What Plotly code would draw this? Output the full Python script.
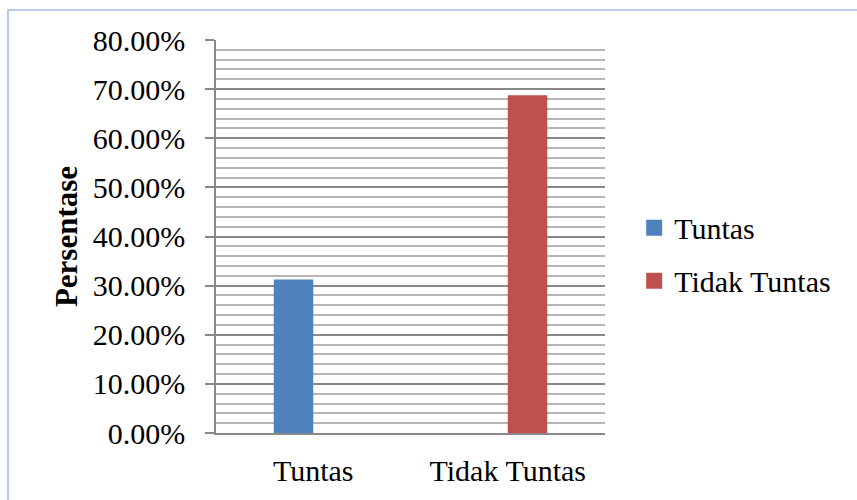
import plotly.graph_objects as go

categories = ["Tuntas", "Tidak Tuntas"]
series_names = ["Tuntas", "Tidak Tuntas"]
tuntas_values = [0.3125, None]
tidak_tuntas_values = [None, 0.6875]
series_colors = ["#4f81bd", "#c0504d"]
y_tick_values = [0, 0.1, 0.2, 0.3, 0.4, 0.5, 0.6, 0.7, 0.8]

FONT = "Times New Roman, Liberation Serif, serif"
MAJOR = "#898989"
MINOR = "#b5b5b5"

fig = go.Figure()
for name, vals, color in zip(series_names, [tuntas_values, tidak_tuntas_values], series_colors):
    fig.add_trace(go.Bar(x=categories, y=vals, name=name, marker_color=color,
                         marker_line_width=0, showlegend=False))
    # square legend swatch
    fig.add_trace(go.Scatter(x=[None], y=[None], mode="markers", name=name,
                             legendgroup=name,
                             marker=dict(symbol="square", size=16, color=color)))

fig.update_layout(
    width=857, height=500,
    margin=dict(l=216, r=252, t=40, b=67, autoexpand=False),
    paper_bgcolor="white", plot_bgcolor="white",
    barmode="group", bargap=0.594, bargroupgap=0,
    font=dict(family=FONT, size=30, color="black"),
    legend=dict(x=1.075, y=0.455, xanchor="left", yanchor="middle",
                font=dict(family=FONT, size=30), itemsizing="trace",
                bgcolor="rgba(0,0,0,0)", tracegroupgap=11),
    shapes=[dict(type="rect", xref="paper", yref="paper",
                 x0=-0.5347, x1=2, y0=-1, y1=1.0763,
                 line=dict(color="#b9cbe9", width=2), layer="below")],
)

fig.update_yaxes(
    range=[0, 0.8], tickvals=y_tick_values, tickformat=".2%",
    tickfont=dict(family=FONT, size=30),
    showgrid=True, gridcolor=MAJOR, gridwidth=1.5,
    minor=dict(dtick=0.02, showgrid=True, gridcolor=MINOR, gridwidth=1.5, ticks=""),
    showline=True, linecolor=MAJOR, linewidth=1.5,
    ticks="outside", ticklen=9, tickcolor=MAJOR, tickwidth=1.5,
    ticklabelstandoff=14, zeroline=False,
    title=dict(text="<b>Persentase</b>", font=dict(family=FONT, size=31), standoff=6),
    automargin=False,
)
fig.update_xaxes(
    showline=True, linecolor=MAJOR, linewidth=1.5, showgrid=False,
    tickfont=dict(family=FONT, size=30),
    ticks="", ticklabelstandoff=10, automargin=False,
)

fig.write_html("out.html")
